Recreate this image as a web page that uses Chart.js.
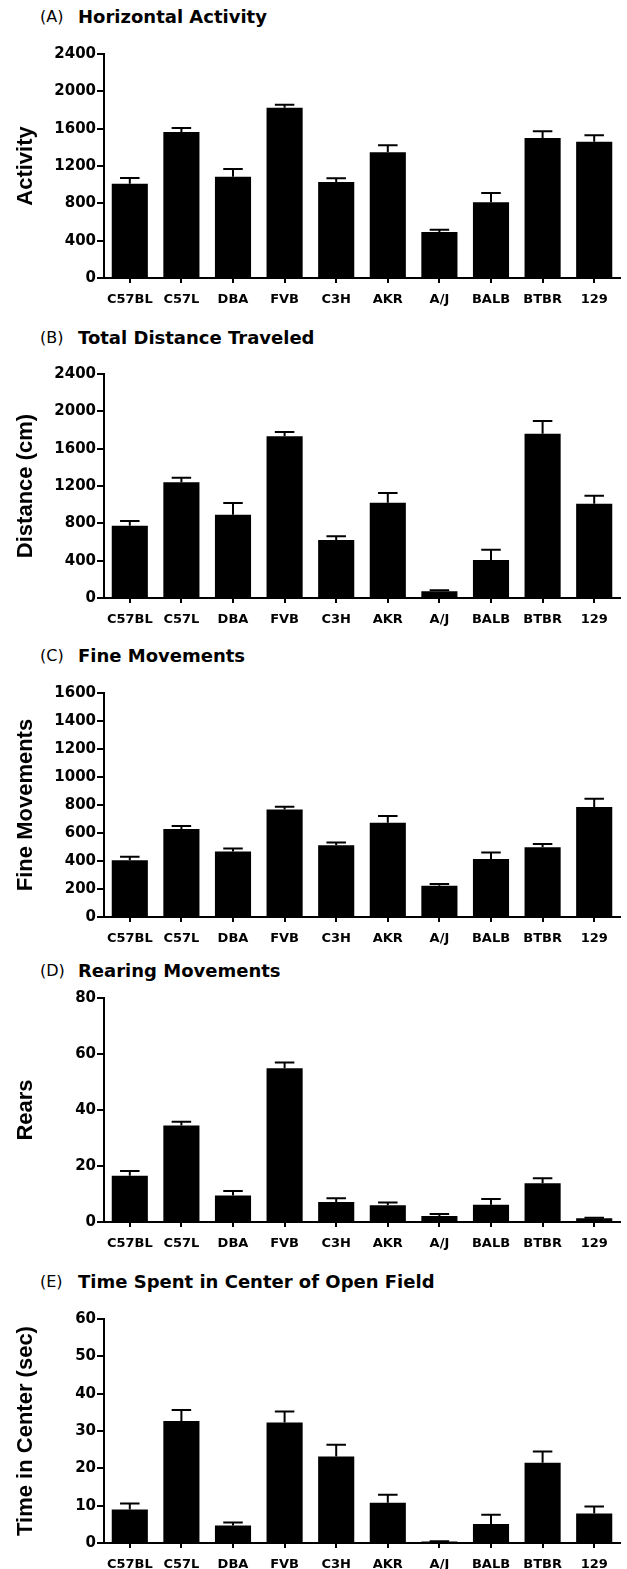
<!DOCTYPE html>
<html>
<head>
<meta charset="utf-8">
<script src="https://cdn.jsdelivr.net/npm/chart.js@4.4.1/dist/chart.umd.min.js"></script>
<style>
  html, body { margin: 0; padding: 0; background: #fff; overflow: hidden; }
  body { width: 627px; height: 1569px; position: relative; }
  .panel { position: absolute; left: 0; width: 627px; height: 278px; }
  .tag { position: absolute; left: 40px; font-family: "DejaVu Sans", sans-serif; font-size: 16px; color: #000; white-space: nowrap; line-height: 20px; }
  .name { position: absolute; left: 78px; font-family: "DejaVu Sans", sans-serif; font-weight: bold; font-size: 18px; color: #000; white-space: nowrap; line-height: 20px; }
</style>
</head>
<body>
<script>
// ---- Data ----
const strains = ["C57BL", "C57L", "DBA", "FVB", "C3H", "AKR", "A/J", "BALB", "BTBR", "129"];

const horizontalActivity = [1010, 1564, 1086, 1825, 1029, 1346, 493, 811, 1500, 1461];
const horizontalActivitySEM = [61, 43, 82, 32, 39, 75, 25, 100, 71, 68];

const distanceTraveled = [775, 1239, 893, 1732, 621, 1021, 71, 407, 1761, 1011];
const distanceTraveledSEM = [50, 50, 125, 47, 40, 104, 11, 111, 135, 85];

const fineMovements = [405, 629, 467, 767, 512, 674, 224, 414, 498, 786];
const fineMovementsSEM = [26, 21, 23, 21, 21, 47, 12, 46, 23, 59];

const rears = [16.5, 34.5, 9.5, 54.9, 7.1, 6.0, 2.1, 6.2, 13.8, 1.3];
const rearsSEM = [1.7, 1.3, 1.6, 2.1, 1.4, 1.0, 0.8, 2.0, 1.8, 0.2];

const centerTime = [9.0, 32.7, 4.7, 32.3, 23.2, 10.8, 0.4, 5.1, 21.5, 7.9];
const centerTimeSEM = [1.6, 2.9, 0.8, 2.9, 3.1, 2.1, 0.1, 2.5, 3.0, 1.9];

const panelTags = ["(A)", "(B)", "(C)", "(D)", "(E)"];
const panelNames = ["Horizontal Activity", "Total Distance Traveled", "Fine Movements", "Rearing Movements", "Time Spent in Center of Open Field"];
const yTitles = ["Activity", "Distance (cm)", "Fine Movements", "Rears", "Time in Center (sec)"];
const yMax = [2400, 2400, 1600, 80, 60];
const yStep = [400, 400, 200, 20, 10];

const panels = [
  { values: horizontalActivity, errors: horizontalActivitySEM, top: 30, titleY: 7 },
  { values: distanceTraveled, errors: distanceTraveledSEM, top: 350, titleY: 328 },
  { values: fineMovements, errors: fineMovementsSEM, top: 669, titleY: 646 },
  { values: rears, errors: rearsSEM, top: 974, titleY: 961 },
  { values: centerTime, errors: centerTimeSEM, top: 1295, titleY: 1272 }
];

const FONT_TICK = '"DejaVu Sans", sans-serif';
const FONT_TITLE = '"Liberation Sans", Arial, Helvetica, sans-serif';

const errorBarPlugin = {
  id: 'errorBars',
  afterDatasetsDraw(chart) {
    const ds = chart.data.datasets[0];
    const errs = ds.errors;
    const meta = chart.getDatasetMeta(0);
    const yScale = chart.scales.y;
    const ctx = chart.ctx;
    ctx.save();
    ctx.strokeStyle = '#000';
    ctx.lineWidth = 2;
    meta.data.forEach((bar, i) => {
      const v = ds.data[i];
      const e = errs[i];
      const yTop = yScale.getPixelForValue(v + e);
      const yBar = yScale.getPixelForValue(v);
      const x = bar.x;
      const capHalf = bar.width * 0.27;
      ctx.beginPath();
      ctx.moveTo(x, yBar);
      ctx.lineTo(x, yTop);
      ctx.moveTo(x - capHalf, yTop);
      ctx.lineTo(x + capHalf, yTop);
      ctx.stroke();
    });
    ctx.restore();
  }
};

panels.forEach((p, k) => {
  const tag = document.createElement('div');
  tag.className = 'tag';
  tag.style.top = p.titleY + 'px';
  tag.textContent = panelTags[k];
  document.body.appendChild(tag);

  const nm = document.createElement('div');
  nm.className = 'name';
  nm.style.top = p.titleY + 'px';
  nm.textContent = panelNames[k];
  document.body.appendChild(nm);

  const wrap = document.createElement('div');
  wrap.className = 'panel';
  wrap.style.top = p.top + 'px';
  const cv = document.createElement('canvas');
  wrap.appendChild(cv);
  document.body.appendChild(wrap);

  new Chart(cv, {
    type: 'bar',
    data: {
      labels: strains,
      datasets: [{
        data: p.values,
        errors: p.errors,
        backgroundColor: '#000',
        borderWidth: 0,
        barPercentage: 0.7,
        categoryPercentage: 1.0
      }]
    },
    options: {
      responsive: true,
      maintainAspectRatio: false,
      animation: false,
      devicePixelRatio: 1,
      layout: { padding: { top: 24, right: 7, left: 0, bottom: 0 } },
      plugins: { legend: { display: false }, tooltip: { enabled: false }, title: { display: false } },
      scales: {
        x: {
          offset: true,
          grid: { display: true, drawOnChartArea: false, drawTicks: true, tickLength: 5, color: '#000', lineWidth: 2, offset: false },
          border: { display: true, color: '#000', width: 2 },
          ticks: { color: '#000', font: { family: FONT_TICK, size: 13, weight: 'bold' }, padding: 9, maxRotation: 0, autoSkip: false },
          afterFit: (s) => { s.height = 30; }
        },
        y: {
          min: 0,
          max: yMax[k],
          grid: { display: true, drawOnChartArea: false, drawTicks: true, tickLength: 7, color: '#000', lineWidth: 2 },
          border: { display: true, color: '#000', width: 2 },
          ticks: { stepSize: yStep[k], color: '#000', font: { family: FONT_TICK, size: 15, weight: 'bold' }, padding: 1, callback: (v) => String(v) },
          title: { display: true, text: yTitles[k], color: '#000', font: { family: FONT_TITLE, size: 22, weight: 'bold' }, padding: { top: 13, bottom: 0 } },
          afterFit: (s) => { s.width = 104; }
        }
      }
    },
    plugins: [errorBarPlugin]
  });
});
</script>
</body>
</html>
